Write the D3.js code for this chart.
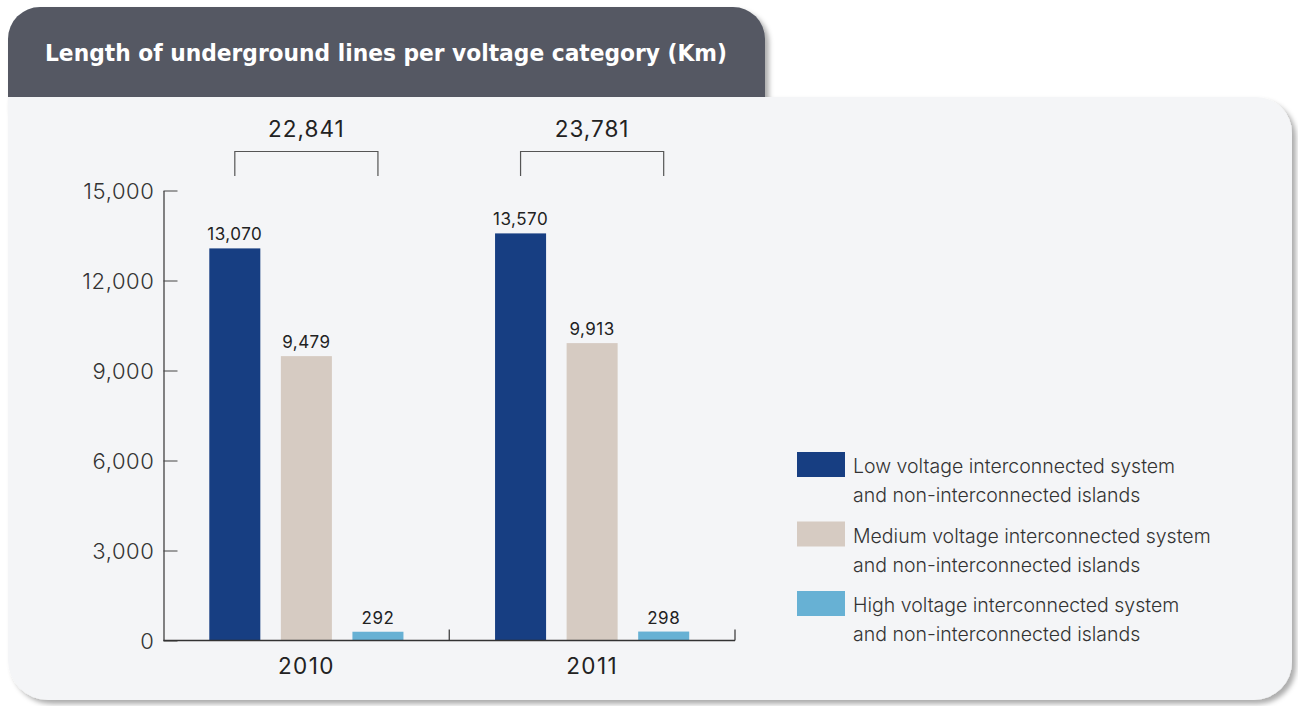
<!DOCTYPE html>
<html>
<head>
<meta charset="utf-8">
<script src="https://cdn.jsdelivr.net/npm/d3@7/dist/d3.min.js"></script>
<style>
  html, body { margin: 0; padding: 0; background: #ffffff; }
  svg { display: block; }
  text { font-family: Inter, "Open Sans", sans-serif; }
</style>
</head>
<body>
<svg id="chart" width="1298" height="706"></svg>
<script>
// Length of underground lines (km) per voltage category
const years = ["2010", "2011"];
const seriesKeys = ["low", "medium", "high"];
const lowVoltage = [13070, 13570];
const mediumVoltage = [9479, 9913];
const highVoltage = [292, 298];
const yTicks = [0, 3000, 6000, 9000, 12000, 15000];
const legendLabels = [
  ["Low voltage interconnected system", "and non-interconnected islands"],
  ["Medium voltage interconnected system", "and non-interconnected islands"],
  ["High voltage interconnected system", "and non-interconnected islands"]
];
const titleText = "Length of underground lines per voltage category (Km)";

const seriesValues = { low: lowVoltage, medium: mediumVoltage, high: highVoltage };
const colors = { low: "#173e82", medium: "#d6cbc2", high: "#67b1d4" };

const svg = d3.select("#chart");
const fmt = d3.format(",");

// drop shadows for the card shapes
const defs = svg.append("defs");
const shadow = defs.append("filter").attr("id", "shadow")
  .attr("x", "-5%").attr("y", "-5%").attr("width", "115%").attr("height", "120%");
shadow.append("feDropShadow").attr("dx", 4).attr("dy", 4)
  .attr("stdDeviation", 2.5).attr("flood-color", "#000").attr("flood-opacity", 0.32);

// title tab
const tabL = 8, tabR = 765, tabT = 7, tabB = 110, tabRad = 32;
const tabPath = d3.path();
tabPath.moveTo(tabL, tabB);
tabPath.lineTo(tabL, tabT + tabRad);
tabPath.arcTo(tabL, tabT, tabL + tabRad, tabT, tabRad);
tabPath.lineTo(tabR - tabRad, tabT);
tabPath.arcTo(tabR, tabT, tabR, tabT + tabRad, tabRad);
tabPath.lineTo(tabR, tabB);
tabPath.closePath();
svg.append("path").attr("d", tabPath.toString())
  .attr("fill", "#555964").attr("filter", "url(#shadow)");

// main panel
const pL = 8, pR = 1292, pT = 97, pB = 700, rTR = 36, rBR = 38, rBL = 40;
const panelPath = d3.path();
panelPath.moveTo(pL, pT);
panelPath.lineTo(pR - rTR, pT);
panelPath.arcTo(pR, pT, pR, pT + rTR, rTR);
panelPath.lineTo(pR, pB - rBR);
panelPath.arcTo(pR, pB, pR - rBR, pB, rBR);
panelPath.lineTo(pL + rBL, pB);
panelPath.arcTo(pL, pB, pL, pB - rBL, rBL);
panelPath.closePath();
svg.append("path").attr("d", panelPath.toString())
  .attr("fill", "#f4f5f7").attr("filter", "url(#shadow)");

svg.append("text")
  .attr("x", 386).attr("y", 61)
  .attr("text-anchor", "middle")
  .attr("fill", "#ffffff")
  .style("font-family", "'Liberation Sans Narrow', 'DejaVu Sans Condensed', 'Roboto Condensed', sans-serif")
  .style("font-weight", 700)
  .style("font-size", "23px")
  .attr("textLength", 682)
  .attr("lengthAdjust", "spacingAndGlyphs")
  .text(titleText);

// scales
const x0 = d3.scaleBand().domain(years).range([163.5, 735]).paddingInner(0).paddingOuter(0);
const x1 = d3.scaleBand().domain(seriesKeys).range([0, x0.bandwidth()])
  .paddingInner(0.287).paddingOuter(0.64);
const y = d3.scaleLinear().domain([0, 15000]).range([640.5, 190.5]);

// y axis
const yAxis = svg.append("g")
  .attr("transform", "translate(163.5,0)")
  .call(d3.axisLeft(y).tickValues(yTicks).tickFormat(fmt)
    .tickSizeInner(-14).tickSizeOuter(0).tickPadding(9));
yAxis.select(".domain").attr("stroke", "#333").attr("stroke-width", 1.2);
yAxis.selectAll(".tick line").attr("stroke", "#444");
yAxis.selectAll(".tick text")
  .attr("fill", "#333").style("font-size", "22px").style("font-weight", 300)
  .style("letter-spacing", "0.6px").attr("dy", "0.36em");

// bars
const groups = svg.append("g").selectAll("g")
  .data(years)
  .join("g")
  .attr("transform", d => `translate(${x0(d)},0)`);

groups.selectAll("rect")
  .data((d, i) => seriesKeys.map(k => ({ key: k, value: seriesValues[k][i] })))
  .join("rect")
  .attr("x", d => x1(d.key))
  .attr("width", x1.bandwidth())
  .attr("y", d => y(d.value))
  .attr("height", d => y(0) - y(d.value))
  .attr("fill", d => colors[d.key]);

groups.selectAll("text.val")
  .data((d, i) => seriesKeys.map(k => ({ key: k, value: seriesValues[k][i] })))
  .join("text")
  .attr("class", "val")
  .attr("x", d => x1(d.key) + x1.bandwidth() / 2)
  .attr("y", d => y(d.value) - 8)
  .attr("text-anchor", "middle")
  .attr("fill", "#222")
  .style("font-size", "17px")
  .style("letter-spacing", "0.5px")
  .text(d => fmt(d.value));

// total brackets above each year
groups.each(function (d, i) {
  const g = d3.select(this);
  const total = d3.sum(seriesKeys, k => seriesValues[k][i]);
  const xa = x1(seriesKeys[0]) + x1.bandwidth() / 2;
  const xb = x1(seriesKeys[seriesKeys.length - 1]) + x1.bandwidth() / 2;
  g.append("path")
    .attr("d", `M${xa},176V151.5H${xb}V176`)
    .attr("fill", "none").attr("stroke", "#555").attr("stroke-width", 1.2);
  g.append("text")
    .attr("x", (xa + xb) / 2).attr("y", 137)
    .attr("text-anchor", "middle")
    .attr("fill", "#222")
    .style("font-size", "22.5px")
    .style("letter-spacing", "1px")
    .text(fmt(total));
});

// x axis: baseline with group separators, year labels centred
const xr = x0.range();
const xAxis = svg.append("g");
xAxis.append("line")
  .attr("x1", xr[0]).attr("x2", xr[1])
  .attr("y1", y(0)).attr("y2", y(0))
  .attr("stroke", "#333").attr("stroke-width", 1.4);
xAxis.selectAll("line.sep")
  .data(years)
  .join("line")
  .attr("class", "sep")
  .attr("x1", d => x0(d) + x0.step()).attr("x2", d => x0(d) + x0.step())
  .attr("y1", y(0) - 11).attr("y2", y(0))
  .attr("stroke", "#333").attr("stroke-width", 1.2);

const xLabels = svg.append("g")
  .attr("transform", `translate(0,${y(0)})`)
  .call(d3.axisBottom(x0).tickSize(0).tickPadding(18));
xLabels.select(".domain").remove();
xLabels.selectAll(".tick text")
  .attr("fill", "#222").style("font-size", "22.5px")
  .style("letter-spacing", "1.4px");

// legend
const legend = svg.append("g").attr("transform", "translate(797,452)");
const items = legend.selectAll("g")
  .data(seriesKeys)
  .join("g")
  .attr("transform", (d, i) => `translate(0,${i * 69.5})`);
items.append("rect")
  .attr("width", 48).attr("height", 25)
  .attr("fill", d => colors[d]);
items.append("text")
  .attr("x", 56).attr("y", 21)
  .attr("fill", "#333")
  .style("font-size", "19.5px")
  .style("font-weight", 350)
  .selectAll("tspan")
  .data((d, i) => legendLabels[i])
  .join("tspan")
  .attr("x", 56)
  .attr("dy", (d, j) => j === 0 ? 0 : 29)
  .text(d => d);
</script>
</body>
</html>
